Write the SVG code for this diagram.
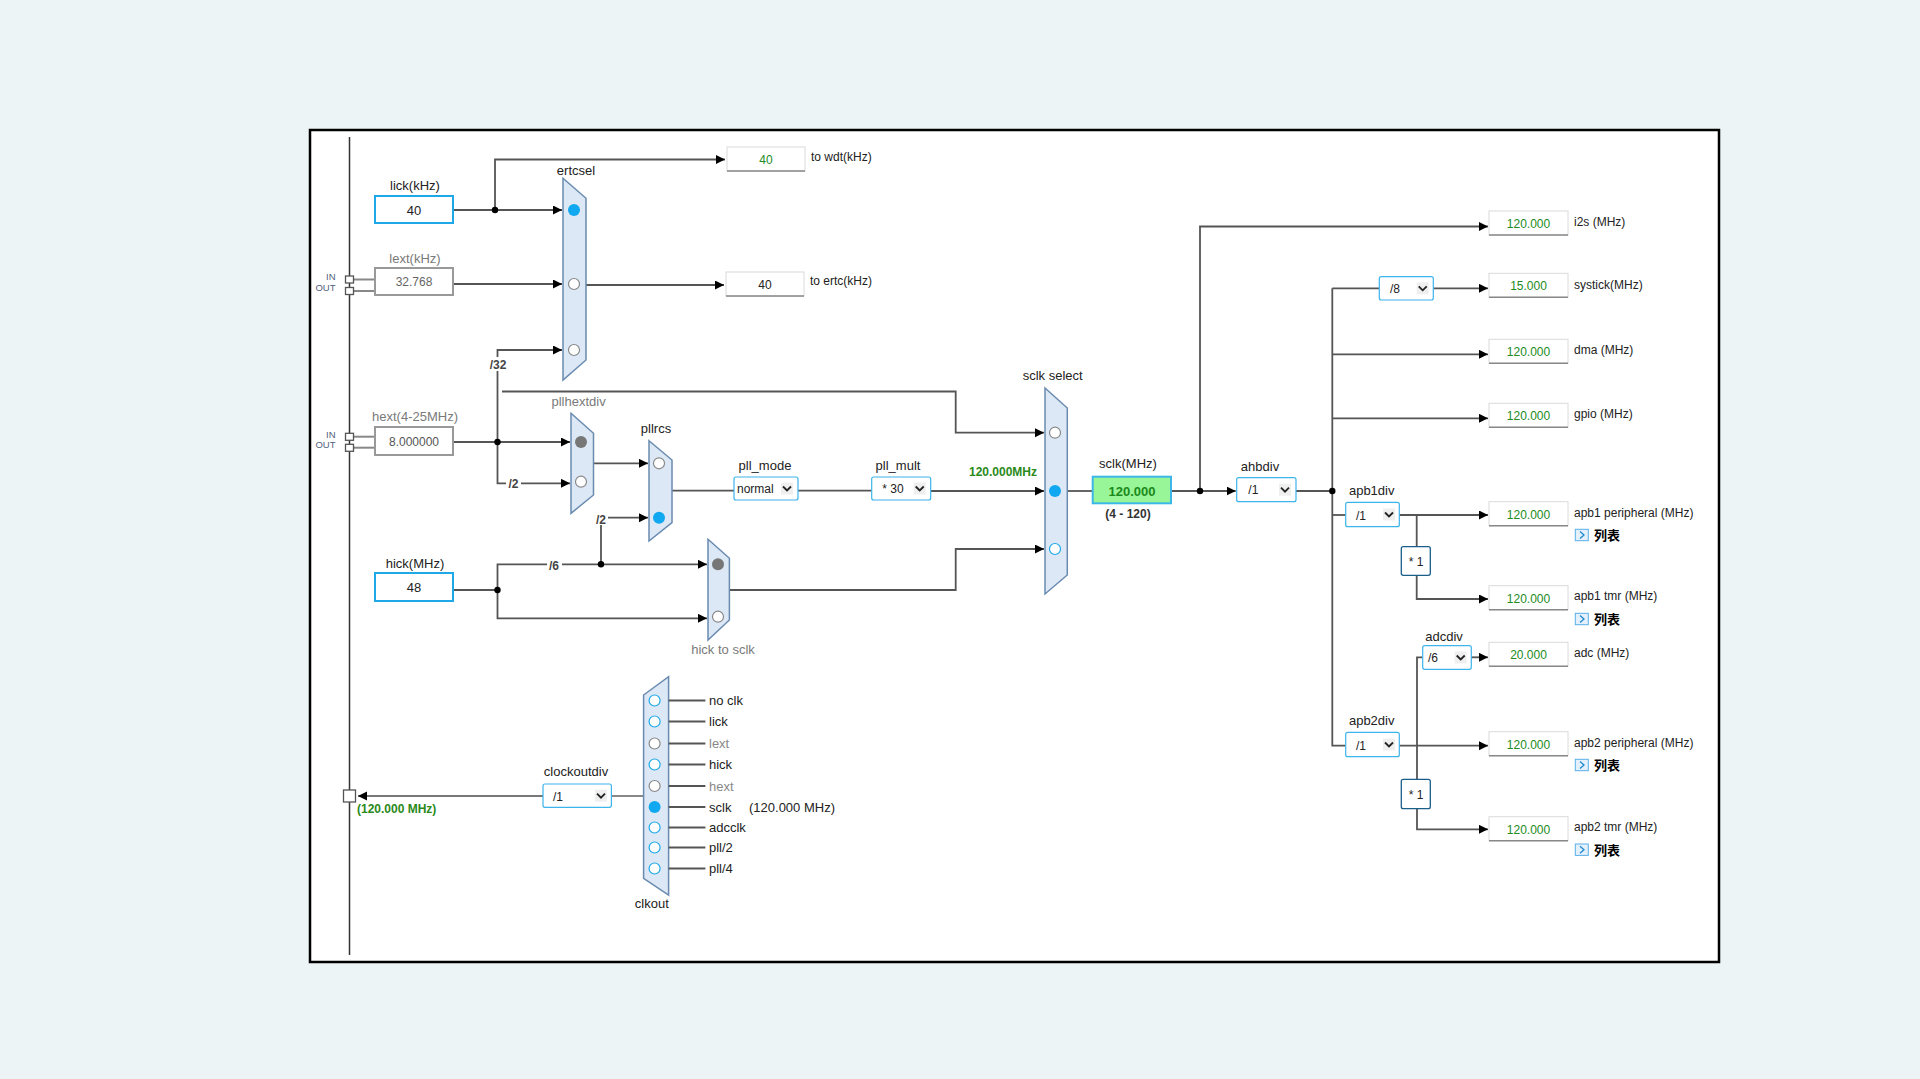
<svg xmlns="http://www.w3.org/2000/svg" width="1920" height="1079" viewBox="0 0 1920 1079">
<defs>
<marker id="arr" markerWidth="10" markerHeight="10" refX="9" refY="4.5" orient="auto" markerUnits="userSpaceOnUse"><path d="M0,0 L9,4.5 L0,9 z" fill="#000"/></marker>
<style>
text{font-family:"Liberation Sans",Arial,"Noto Sans CJK SC",sans-serif;font-size:12px;fill:#222}
.lbl{font-size:13px;text-anchor:middle}
.glbl{font-size:13px;text-anchor:middle;fill:#7a7a7a}
.ln{fill:none;stroke:#555;stroke-width:1.8}
.la{fill:none;stroke:#555;stroke-width:1.8;marker-end:url(#arr)}
.mux{fill:#dce8f5;stroke:#6a8bb0;stroke-width:1.5}
.cb{fill:#10a8f0;stroke:none}
.cg{fill:#777;stroke:none}
.ho{fill:#fff;stroke:#888;stroke-width:1.2}
.hb{fill:#fff;stroke:#1ea8e8;stroke-width:1.2}
.inbox{fill:#fff;stroke:#1ea8e8;stroke-width:2}
.gbox{fill:#fff;stroke:#999;stroke-width:2}
.dd{fill:#fff;stroke:#3cb4ec;stroke-width:1.2}
.chb{fill:#efefef}
.ch{fill:none;stroke:#222;stroke-width:1.8}
.ob{fill:#fff;stroke:#dadada;stroke-width:1}
.obb{stroke:#888;stroke-width:1.5}
.val{text-anchor:middle;fill:#228b22}
.dot{fill:#000}
.div{font-weight:bold;fill:#444;text-anchor:middle}
.mul{fill:#fff;stroke:#1a5e8a;stroke-width:1.3}
.io{font-size:9.5px;fill:#50607a;text-anchor:end}
.sq{fill:#fff;stroke:#555;stroke-width:1.3}
.ic{fill:#e4f1fd;stroke:#5ab0e8;stroke-width:1}
.icc{fill:none;stroke:#1e88d0;stroke-width:1.3}
.lst{font-size:13px;font-weight:bold;fill:#000}
.gl{font-size:13px}
</style>
</defs>
<rect x="0" y="0" width="1920" height="1079" fill="#ecf4f6"/>
<rect x="310" y="130" width="1409" height="832" fill="#fff" stroke="#000" stroke-width="2.5"/>
<line x1="349.5" y1="137" x2="349.5" y2="955" stroke="#333" stroke-width="1.5"/>

<g id="connectors">
<path class="la" d="M453,210 H562"/>
<path class="la" d="M495,210 V159.5 H725"/>
<path class="la" d="M453,284 H562"/>
<path class="la" d="M586,285 H724"/>
<path class="la" d="M497.5,442 V350 H562"/>
<path class="la" d="M502,391.5 H955.7 V432.7 H1044"/>
<path class="la" d="M453,442 H570"/>
<path class="la" d="M497.5,442 V483.3 H570"/>
<path class="la" d="M593.5,463.3 H648"/>
<path class="la" d="M601,564.3 V517.7 H648"/>
<path class="ln" d="M672,490.7 H734"/>
<path class="ln" d="M798,490.7 H871.7"/>
<path class="la" d="M930.7,491 H1044"/>
<path class="ln" d="M453,590 H497.5"/>
<path class="la" d="M497.5,590 V564.3 H707"/>
<path class="la" d="M497.5,590 V618.3 H707"/>
<path class="la" d="M729.4,590 H955.7 V549 H1044"/>
<path class="ln" d="M1067.3,491 H1092.7"/>
<path class="la" d="M1171,491 H1235.7"/>
<path class="la" d="M1200,491 V226.5 H1488"/>
<path class="ln" d="M1296,491 H1332.3"/>
<path class="ln" d="M1332.3,288.3 V745.7 H1345.7"/>
<path class="ln" d="M1332.3,288.3 H1379.3"/>
<path class="la" d="M1433.3,288.3 H1488"/>
<path class="la" d="M1332.3,354.3 H1488"/>
<path class="la" d="M1332.3,418.3 H1488"/>
<path class="ln" d="M1332.3,515 H1345.7"/>
<path class="la" d="M1399.3,515 H1488"/>
<path class="ln" d="M1416.7,515 V546.7"/>
<path class="la" d="M1416.7,575.3 V599 H1488"/>
<path class="la" d="M1399.3,745.7 H1488"/>
<path class="ln" d="M1417,779.3 V657.3 H1422.7"/>
<path class="la" d="M1471.3,657.3 H1488"/>
<path class="la" d="M1417,808.7 V829.3 H1488"/>
<path class="la" d="M543,796 H358" stroke="#777" style="stroke:#777;stroke-width:2"/>
<path class="ln" d="M611.4,796 H643.6" style="stroke:#888;stroke-width:2"/>
<circle class="dot" cx="495" cy="210" r="3.2"/>
<circle class="dot" cx="497.5" cy="442" r="3.2"/>
<circle class="dot" cx="497.5" cy="590" r="3.2"/>
<circle class="dot" cx="601" cy="564.3" r="3.2"/>
<circle class="dot" cx="1200" cy="491" r="3.2"/>
<circle class="dot" cx="1332.3" cy="491" r="3.2"/>
<rect x="488" y="357" width="20" height="14" fill="#fff"/>
<text class="div" x="498" y="368.5">/32</text>
<rect x="506" y="477" width="15" height="13" fill="#fff"/>
<text class="div" x="513.5" y="487.5">/2</text>
<rect x="594" y="512" width="14" height="13" fill="#fff"/>
<text class="div" x="601" y="523.5">/2</text>
<rect x="547" y="558" width="15" height="13" fill="#fff"/>
<text class="div" x="554" y="569.5">/6</text>
<text x="1003" y="476" style="font-weight:bold;fill:#2a8a1a;text-anchor:middle">120.000MHz</text>
</g>

<g id="io-lext">
<text class="io" x="335.5" y="279.5">IN</text>
<text class="io" x="335.5" y="291">OUT</text>
<line x1="353" y1="279.5" x2="375" y2="279.5" stroke="#888" stroke-width="2"/>
<line x1="353" y1="291" x2="375" y2="291" stroke="#888" stroke-width="2"/>
<rect class="sq" x="345.5" y="276" width="8" height="7"/>
<rect class="sq" x="345.5" y="287.5" width="8" height="7"/>
</g>
<g id="io-hext">
<text class="io" x="335.5" y="437.5">IN</text>
<text class="io" x="335.5" y="448">OUT</text>
<line x1="353" y1="436.7" x2="375" y2="436.7" stroke="#888" stroke-width="2"/>
<line x1="353" y1="447.7" x2="375" y2="447.7" stroke="#888" stroke-width="2"/>
<rect class="sq" x="345.5" y="433.3" width="8" height="7"/>
<rect class="sq" x="345.5" y="444.3" width="8" height="7"/>
</g>

<g id="lick">
<text class="lbl" x="415" y="190">lick(kHz)</text>
<rect class="inbox" x="375" y="196" width="78" height="27"/>
<text x="414" y="214.5" style="text-anchor:middle;font-size:13px">40</text>
</g>
<g id="lext">
<text class="glbl" x="415" y="262.5">lext(kHz)</text>
<rect class="gbox" x="375" y="268" width="78" height="27"/>
<text x="414" y="286" style="text-anchor:middle;fill:#666">32.768</text>
</g>
<g id="hext">
<text class="glbl" x="415" y="421">hext(4-25MHz)</text>
<rect class="gbox" x="375" y="427" width="78" height="28"/>
<text x="414" y="445.5" style="text-anchor:middle;fill:#555">8.000000</text>
</g>
<g id="hick">
<text class="lbl" x="415" y="567.5">hick(MHz)</text>
<rect class="inbox" x="375" y="573" width="78" height="28"/>
<text x="414" y="591.5" style="text-anchor:middle;font-size:13px">48</text>
</g>

<g id="wdt">
<rect class="ob" x="727" y="147" width="78" height="24"/>
<line class="obb" x1="727" y1="171" x2="805" y2="171"/>
<text class="val" x="766" y="163.5">40</text>
<text x="811" y="161">to wdt(kHz)</text>
</g>
<g id="ertc">
<rect class="ob" x="726" y="272" width="78" height="24"/>
<line class="obb" x1="726" y1="296" x2="804" y2="296"/>
<text x="765" y="288.5" style="text-anchor:middle">40</text>
<text x="810" y="285">to ertc(kHz)</text>
</g>

<g id="ertcsel">
<text class="lbl" x="576" y="174.5">ertcsel</text>
<polygon class="mux" points="563,178.3 586,198.3 586,360 563,380"/>
<circle class="cb" cx="574" cy="210" r="6"/>
<circle class="ho" cx="574" cy="284" r="5.5"/>
<circle class="ho" cx="574" cy="350" r="5.5"/>
</g>

<g id="pllhextdiv">
<text class="glbl" x="578.6" y="405.5">pllhextdiv</text>
<polygon class="mux" points="571,413.3 593.5,433.3 593.5,495 571,513.3"/>
<circle class="cg" cx="581" cy="442" r="6"/>
<circle class="ho" cx="581" cy="481.7" r="5.5"/>
</g>

<g id="pllrcs">
<text class="lbl" x="656" y="432.5">pllrcs</text>
<polygon class="mux" points="649,440.7 672,460 672,522.7 649,541"/>
<circle class="ho" cx="659" cy="463.3" r="5.5"/>
<circle class="cb" cx="659" cy="517.7" r="6"/>
</g>

<g id="pll_mode">
<text class="lbl" x="765" y="469.5">pll_mode</text>
<rect class="dd" x="734" y="477" width="64" height="23" rx="2"/>
<text x="737" y="493">normal</text>
<rect class="chb" x="781" y="482.5" width="12" height="12"/>
<polyline class="ch" points="783,486.5 787,490.5 791,486.5"/>
</g>

<g id="pll_mult">
<text class="lbl" x="898" y="469.5">pll_mult</text>
<rect class="dd" x="871.7" y="477" width="59" height="23" rx="2"/>
<text x="882.3" y="493">* 30</text>
<rect class="chb" x="913.7" y="482.5" width="12" height="12"/>
<polyline class="ch" points="915.7,486.5 919.7,490.5 923.7,486.5"/>
</g>

<g id="hick-to-sclk">
<polygon class="mux" points="708,539.3 729.4,558.3 729.4,620 708,640"/>
<circle class="cg" cx="718" cy="564.3" r="6"/>
<circle class="ho" cx="718" cy="616.7" r="5.5"/>
<text class="glbl" x="723" y="653.5">hick to sclk</text>
</g>

<g id="sclk-select">
<text class="lbl" x="1052.7" y="379.5">sclk select</text>
<polygon class="mux" points="1045,388 1067.3,408 1067.3,575 1045,594"/>
<circle class="ho" cx="1055" cy="432.7" r="5.5"/>
<circle class="cb" cx="1055" cy="491" r="6"/>
<circle class="hb" cx="1055" cy="549" r="5.5"/>
</g>

<g id="sclk">
<text class="lbl" x="1128" y="468">sclk(MHz)</text>
<rect x="1092.7" y="476.7" width="78.3" height="26.6" fill="#98f598" stroke="#3cb8e8" stroke-width="2"/>
<text x="1132" y="495.5" style="text-anchor:middle;font-size:13px;font-weight:bold;fill:#1a8a1a">120.000</text>
<text x="1128" y="517.5" style="text-anchor:middle;font-weight:bold;fill:#333">(4 - 120)</text>
</g>

<g id="ahbdiv">
<text class="lbl" x="1260" y="470.5">ahbdiv</text>
<rect class="dd" x="1236.7" y="477.7" width="59.3" height="24" rx="2"/>
<text x="1248.3" y="494">/1</text>
<rect class="chb" x="1279" y="483.7" width="12" height="12"/>
<polyline class="ch" points="1281,487.7 1285,491.7 1289,487.7"/>
</g>

<g id="systickdiv">
<rect class="dd" x="1379.3" y="276.7" width="54" height="23.3" rx="2"/>
<text x="1390" y="293">/8</text>
<rect class="chb" x="1416.7" y="282.3" width="12" height="12"/>
<polyline class="ch" points="1418.7,286.3 1422.7,290.3 1426.7,286.3"/>
</g>

<g id="apb1div">
<text class="lbl" x="1371.7" y="494.5">apb1div</text>
<rect class="dd" x="1345.7" y="502.3" width="53.6" height="24.4" rx="2"/>
<text x="1356" y="519.5">/1</text>
<rect class="chb" x="1383" y="508.5" width="12" height="12"/>
<polyline class="ch" points="1385,512.5 1389,516.5 1393,512.5"/>
</g>
<g id="apb1tmr-mul">
<rect class="mul" x="1401.3" y="546.7" width="29" height="28.6" rx="2"/>
<text x="1416" y="565.5" style="text-anchor:middle">* 1</text>
</g>

<g id="adcdiv">
<text class="lbl" x="1444" y="641">adcdiv</text>
<rect class="dd" x="1422.7" y="645.7" width="48.6" height="23.6" rx="2"/>
<text x="1428" y="662">/6</text>
<rect class="chb" x="1454.7" y="651.5" width="12" height="12"/>
<polyline class="ch" points="1456.7,655.5 1460.7,659.5 1464.7,655.5"/>
</g>

<g id="apb2div">
<text class="lbl" x="1371.7" y="724.5">apb2div</text>
<rect class="dd" x="1345.7" y="732.3" width="53.6" height="24.4" rx="2"/>
<text x="1356" y="750">/1</text>
<rect class="chb" x="1383" y="738.5" width="12" height="12"/>
<polyline class="ch" points="1385,742.5 1389,746.5 1393,742.5"/>
</g>
<g id="apb2tmr-mul">
<rect class="mul" x="1401.3" y="779.3" width="29" height="29.4" rx="2"/>
<text x="1416" y="798.5" style="text-anchor:middle">* 1</text>
</g>

<g id="i2s">
<rect class="ob" x="1489" y="211" width="79" height="24"/>
<line class="obb" x1="1489" y1="235" x2="1568" y2="235"/>
<text class="val" x="1528.5" y="227.5">120.000</text>
<text x="1574" y="226">i2s (MHz)</text>
</g>
<g id="systick">
<rect class="ob" x="1489" y="273.3" width="79" height="24"/>
<line class="obb" x1="1489" y1="297.3" x2="1568" y2="297.3"/>
<text class="val" x="1528.5" y="290">15.000</text>
<text x="1574" y="288.5">systick(MHz)</text>
</g>
<g id="dma">
<rect class="ob" x="1489" y="339.3" width="79" height="24"/>
<line class="obb" x1="1489" y1="363.3" x2="1568" y2="363.3"/>
<text class="val" x="1528.5" y="356">120.000</text>
<text x="1574" y="354">dma (MHz)</text>
</g>
<g id="gpio">
<rect class="ob" x="1489" y="403.3" width="79" height="24"/>
<line class="obb" x1="1489" y1="427.3" x2="1568" y2="427.3"/>
<text class="val" x="1528.5" y="420">120.000</text>
<text x="1574" y="417.5">gpio (MHz)</text>
</g>
<g id="apb1-peripheral">
<rect class="ob" x="1489" y="501.7" width="79" height="24"/>
<line class="obb" x1="1489" y1="525.7" x2="1568" y2="525.7"/>
<text class="val" x="1528.5" y="518.5">120.000</text>
<text x="1574" y="516.5">apb1 peripheral (MHz)</text>
<rect class="ic" x="1575.3" y="529.3" width="13" height="11.4"/>
<polyline class="icc" points="1580,531.5 1584,535 1580,538.5"/>
<text class="lst" x="1594" y="539.5">列表</text>
</g>
<g id="apb1-tmr">
<rect class="ob" x="1489" y="585.7" width="79" height="24"/>
<line class="obb" x1="1489" y1="609.7" x2="1568" y2="609.7"/>
<text class="val" x="1528.5" y="602.5">120.000</text>
<text x="1574" y="600">apb1 tmr (MHz)</text>
<rect class="ic" x="1575.3" y="613.3" width="13" height="11.4"/>
<polyline class="icc" points="1580,615.5 1584,619 1580,622.5"/>
<text class="lst" x="1594" y="623.5">列表</text>
</g>
<g id="adc">
<rect class="ob" x="1489" y="642.3" width="79" height="24"/>
<line class="obb" x1="1489" y1="666.3" x2="1568" y2="666.3"/>
<text class="val" x="1528.5" y="659">20.000</text>
<text x="1574" y="657">adc (MHz)</text>
</g>
<g id="apb2-peripheral">
<rect class="ob" x="1489" y="731.7" width="79" height="24"/>
<line class="obb" x1="1489" y1="755.7" x2="1568" y2="755.7"/>
<text class="val" x="1528.5" y="748.5">120.000</text>
<text x="1574" y="746.5">apb2 peripheral (MHz)</text>
<rect class="ic" x="1575.3" y="759.3" width="13" height="11.4"/>
<polyline class="icc" points="1580,761.5 1584,765 1580,768.5"/>
<text class="lst" x="1594" y="769.5">列表</text>
</g>
<g id="apb2-tmr">
<rect class="ob" x="1489" y="816.7" width="79" height="24"/>
<line class="obb" x1="1489" y1="840.7" x2="1568" y2="840.7"/>
<text class="val" x="1528.5" y="833.5">120.000</text>
<text x="1574" y="831">apb2 tmr (MHz)</text>
<rect class="ic" x="1575.3" y="844" width="13" height="11.4"/>
<polyline class="icc" points="1580,846.2 1584,849.7 1580,853.2"/>
<text class="lst" x="1594" y="854.5">列表</text>
</g>

<g id="clkout-pin">
<rect class="sq" x="343.5" y="790" width="12" height="12"/>
<text x="357" y="812.5" style="font-weight:bold;fill:#2a8a1a">(120.000 MHz)</text>
</g>

<g id="clockoutdiv">
<text class="lbl" x="576" y="775.5">clockoutdiv</text>
<rect class="dd" x="543" y="784" width="68.4" height="23.3" rx="2"/>
<text x="552.9" y="800.5">/1</text>
<rect class="chb" x="595" y="789.7" width="12" height="12"/>
<polyline class="ch" points="597,793.7 601,797.7 605,793.7"/>
</g>

<g id="clkout">
<polygon class="mux" points="643.6,695 668.6,676.7 668.6,895 643.6,878.3"/>
<g stroke="#555" stroke-width="1.8">
<line x1="668.6" y1="700.5" x2="705.4" y2="700.5"/>
<line x1="668.6" y1="721.5" x2="705.4" y2="721.5"/>
<line x1="668.6" y1="743.5" x2="705.4" y2="743.5"/>
<line x1="668.6" y1="764.5" x2="705.4" y2="764.5"/>
<line x1="668.6" y1="786" x2="705.4" y2="786"/>
<line x1="668.6" y1="807" x2="705.4" y2="807"/>
<line x1="668.6" y1="827.5" x2="705.4" y2="827.5"/>
<line x1="668.6" y1="847.5" x2="705.4" y2="847.5"/>
<line x1="668.6" y1="868.5" x2="705.4" y2="868.5"/>
</g>
<circle class="hb" cx="654.6" cy="700.5" r="5.5"/>
<circle class="hb" cx="654.6" cy="721.5" r="5.5"/>
<circle class="ho" cx="654.6" cy="743.5" r="5.5"/>
<circle class="hb" cx="654.6" cy="764.5" r="5.5"/>
<circle class="ho" cx="654.6" cy="786" r="5.5"/>
<circle class="cb" cx="654.6" cy="807" r="6"/>
<circle class="hb" cx="654.6" cy="827.5" r="5.5"/>
<circle class="hb" cx="654.6" cy="847.5" r="5.5"/>
<circle class="hb" cx="654.6" cy="868.5" r="5.5"/>
<text class="gl" x="709" y="705">no clk</text>
<text class="gl" x="709" y="726">lick</text>
<text class="gl" x="709" y="748" style="fill:#888">lext</text>
<text class="gl" x="709" y="769">hick</text>
<text class="gl" x="709" y="790.5" style="fill:#888">hext</text>
<text class="gl" x="709" y="811.5">sclk</text>
<text class="gl" x="749" y="811.5">(120.000 MHz)</text>
<text class="gl" x="709" y="832">adcclk</text>
<text class="gl" x="709" y="852">pll/2</text>
<text class="gl" x="709" y="873">pll/4</text>
<text class="lbl" x="651.8" y="907.5">clkout</text>
</g>
</svg>
